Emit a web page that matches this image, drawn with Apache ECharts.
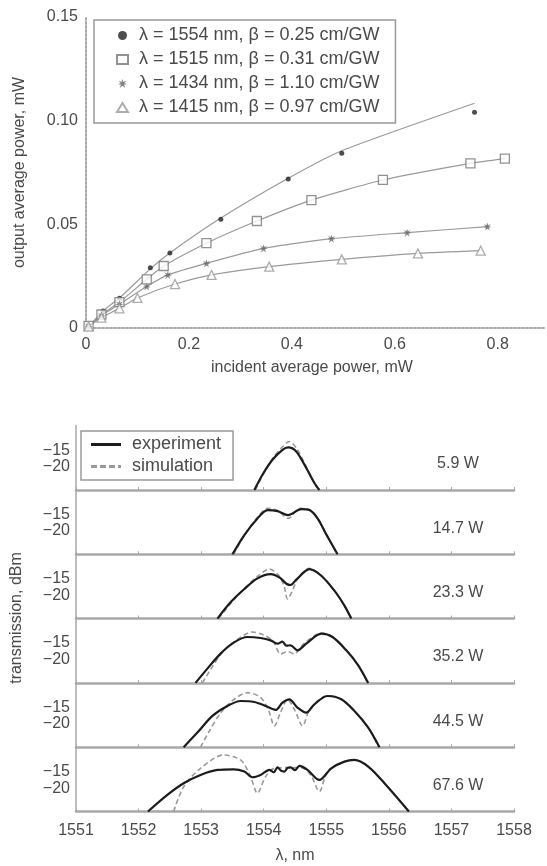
<!DOCTYPE html>
<html>
<head>
<meta charset="utf-8">
<script src="https://cdn.jsdelivr.net/npm/echarts@6/dist/echarts.min.js"></script>
<style>
  html, body { margin: 0; padding: 0; background: #fff; }
  #chart { width: 547px; height: 866px; }
</style>
</head>
<body>
<div id="chart"></div>
<script>
// ---- top plot: output vs incident average power (mW) ----
const seriesNames = [
  'λ = 1554 nm, β = 0.25 cm/GW',
  'λ = 1515 nm, β = 0.31 cm/GW',
  'λ = 1434 nm, β = 1.10 cm/GW',
  'λ = 1415 nm, β = 0.97 cm/GW'
];
const inc1554 = [0.005, 0.033, 0.065, 0.125, 0.163, 0.262, 0.393, 0.497, 0.755];
const out1554 = [0.0005, 0.0082, 0.0143, 0.0291, 0.0362, 0.0524, 0.0719, 0.0843, 0.104];
const fit1554 = [0.0005, 0.0082, 0.0145, 0.0285, 0.0362, 0.0530, 0.0722, 0.0855, 0.1084];
const inc1515 = [0.005, 0.03, 0.065, 0.118, 0.151, 0.234, 0.332, 0.438, 0.577, 0.747, 0.814];
const out1515 = [0.001, 0.0065, 0.0125, 0.0235, 0.0299, 0.0409, 0.0516, 0.0617, 0.0714, 0.0794, 0.0817];
const inc1434 = [0.005, 0.03, 0.065, 0.118, 0.159, 0.234, 0.345, 0.477, 0.624, 0.78];
const out1434 = [0.0008, 0.006, 0.0115, 0.02, 0.0256, 0.0312, 0.0384, 0.0431, 0.046, 0.0489];
const inc1415 = [0.005, 0.03, 0.065, 0.1, 0.173, 0.244, 0.356, 0.497, 0.645, 0.767];
const out1415 = [0.0007, 0.005, 0.0095, 0.0145, 0.0212, 0.0256, 0.0296, 0.0331, 0.036, 0.0373];
const incTicks = [0, 0.2, 0.4, 0.6, 0.8];

// ---- bottom plot: transmission spectra at several peak powers ----
const powerLabels = ['5.9 W', '14.7 W', '23.3 W', '35.2 W', '44.5 W', '67.6 W'];
const lambdaTicks = [1551, 1552, 1553, 1554, 1555, 1556, 1557, 1558];
const transTicks = [-15, -20];

const expL1 = [1553.85, 1553.98, 1554.14, 1554.30, 1554.39, 1554.52, 1554.68, 1554.81, 1554.89];
const expT1 = [-27, -22.4, -17.9, -14.9, -14.2, -15.4, -20.4, -24.9, -27];
const simL1 = [1553.87, 1554.0, 1554.15, 1554.3, 1554.41, 1554.53, 1554.68, 1554.8, 1554.88];
const simT1 = [-27, -22.0, -17.3, -14.0, -12.4, -14.6, -20.0, -24.6, -27];

const expL2 = [1553.50, 1553.69, 1553.90, 1554.06, 1554.22, 1554.39, 1554.60, 1554.73, 1554.86, 1555.00, 1555.18];
const expT2 = [-27, -21.2, -16.2, -13.7, -14.0, -15.2, -13.4, -13.7, -16.2, -21.0, -27];
const simL2 = [1553.52, 1553.7, 1553.9, 1554.06, 1554.22, 1554.39, 1554.58, 1554.73, 1554.86, 1555.0, 1555.17];
const simT2 = [-27, -21.0, -15.9, -13.2, -13.8, -16.2, -13.2, -13.5, -16.0, -21.0, -27];

const expL3 = [1553.26, 1553.47, 1553.69, 1553.90, 1554.11, 1554.25, 1554.37, 1554.43, 1554.52, 1554.73, 1554.92, 1555.13, 1555.29, 1555.40];
const expT3 = [-27, -22.1, -18.1, -14.9, -13.6, -14.6, -16.6, -16.9, -15.3, -12.1, -14.1, -18.6, -23.1, -27];
const simL3 = [1553.28, 1553.48, 1553.7, 1553.9, 1554.09, 1554.24, 1554.33, 1554.38, 1554.45, 1554.55, 1554.73, 1554.92, 1555.13, 1555.29, 1555.40];
const simT3 = [-27, -22.3, -17.8, -14.3, -12.1, -14.0, -17.5, -21.1, -19.0, -14.8, -11.9, -14.0, -18.6, -23.1, -27];

const expL4 = [1552.91, 1553.10, 1553.31, 1553.52, 1553.74, 1553.95, 1554.11, 1554.22, 1554.30, 1554.36, 1554.43, 1554.54, 1554.68, 1554.92, 1555.10, 1555.32, 1555.51, 1555.67];
const expT4 = [-27, -22.7, -18.2, -14.9, -13.2, -13.5, -14.2, -15.2, -14.6, -15.8, -15.7, -17.2, -15.2, -12.2, -13.2, -17.2, -21.7, -27];
const simL4 = [1553.02, 1553.15, 1553.33, 1553.55, 1553.82, 1554.0, 1554.15, 1554.27, 1554.38, 1554.49, 1554.6, 1554.72, 1554.92, 1555.1, 1555.32, 1555.51, 1555.66];
const simT4 = [-27, -23.0, -18.0, -14.3, -11.7, -12.6, -14.5, -18.3, -17.6, -18.3, -16.0, -14.0, -12.0, -13.2, -17.2, -21.7, -27];

const expL5 = [1552.72, 1552.94, 1553.18, 1553.42, 1553.63, 1553.85, 1554.03, 1554.19, 1554.30, 1554.41, 1554.54, 1554.68, 1554.81, 1555.02, 1555.24, 1555.45, 1555.67, 1555.85];
const expT5 = [-27, -22.6, -17.6, -14.6, -13.1, -13.4, -14.6, -15.8, -13.6, -12.6, -15.1, -16.6, -14.1, -11.6, -12.6, -16.1, -21.1, -27];
const simL5 = [1552.99, 1553.12, 1553.3, 1553.5, 1553.74, 1553.95, 1554.08, 1554.17, 1554.27, 1554.38, 1554.5, 1554.62, 1554.74, 1555.02, 1555.24, 1555.45, 1555.67, 1555.84];
const simT5 = [-27, -22.5, -17.0, -13.0, -10.6, -12.0, -16.0, -20.6, -16.5, -12.6, -16.0, -20.6, -15.5, -11.5, -12.6, -16.1, -21.1, -27];

const expL6 = [1552.15, 1552.46, 1552.72, 1552.99, 1553.26, 1553.52, 1553.69, 1553.82, 1553.95, 1554.09, 1554.16, 1554.22, 1554.28, 1554.33, 1554.38, 1554.43, 1554.50, 1554.57, 1554.70, 1554.89, 1555.08, 1555.29, 1555.45, 1555.67, 1555.93, 1556.32];
const expT6 = [-27, -22.0, -18.5, -16.0, -14.5, -14.3, -15.0, -16.7, -16.0, -14.5, -15.2, -13.7, -14.8, -15.0, -13.9, -13.7, -14.6, -13.3, -14.5, -17.5, -14.0, -12.0, -11.5, -13.5, -18.5, -27];
const simL6 = [1552.56, 1552.72, 1552.99, 1553.36, 1553.63, 1553.78, 1553.90, 1554.03, 1554.17, 1554.4, 1554.6, 1554.75, 1554.89, 1555.02, 1555.29, 1555.45, 1555.67, 1555.93, 1556.32];
const simT6 = [-27, -19.6, -14.0, -10.0, -11.5, -16.0, -21.5, -16.5, -14.0, -13.8, -13.8, -16.0, -21.0, -15.0, -12.0, -11.5, -13.5, -18.5, -27];

const expLambda = [expL1, expL2, expL3, expL4, expL5, expL6];
const expTrans = [expT1, expT2, expT3, expT4, expT5, expT6];
const simLambda = [simL1, simL2, simL3, simL4, simL5, simL6];
const simTrans = [simT1, simT2, simT3, simT4, simT5, simT6];

const FONT = "'Liberation Sans', Arial, sans-serif";
const TEXT = '#4a4a4a';
const AXIS = '#a8a8a8';

const PANEL_TOP = 425.5;
const PANEL_STEP = 64.3;
const PANEL_H = 64.5;

const pairs = (xs, ys) => xs.map((x, i) => [x, ys[i]]);

const chart = echarts.init(document.getElementById('chart'), null, { renderer: 'canvas' });

const grids = [{ left: 86, right: 0, top: 17, height: 311 }];
const xAxes = [{
  type: 'value', gridIndex: 0, min: 0, max: 0.89, interval: 0.2,
  axisLine: { lineStyle: { color: AXIS, width: 2, type: 'dotted' } },
  axisTick: { show: false },
  splitLine: { show: false },
  axisLabel: {
    color: TEXT, fontSize: 16, fontFamily: FONT, margin: 9,
    formatter: v => incTicks.some(t => Math.abs(t - v) < 1e-6) ? (v === 0 ? '0' : String(+v.toFixed(1))) : ''
  },
  name: 'incident average power, mW', nameLocation: 'middle', nameGap: 32,
  nameTextStyle: { color: TEXT, fontSize: 16, fontFamily: FONT, padding: [0, 0, 0, -6] }
}];
const yAxes = [{
  type: 'value', gridIndex: 0, min: 0, max: 0.15, interval: 0.05,
  axisLine: { show: true, lineStyle: { color: AXIS, width: 2, type: 'dotted' } },
  axisTick: { show: false },
  splitLine: { show: false },
  axisLabel: { color: TEXT, fontSize: 16, fontFamily: FONT, margin: 8, formatter: v => v === 0 ? '0' : v.toFixed(2) },
  name: 'output average power, mW', nameLocation: 'middle', nameGap: 58,
  nameTextStyle: { color: TEXT, fontSize: 16, fontFamily: FONT }
}];

for (let i = 0; i < 6; i++) {
  const last = i === 5;
  grids.push({ left: 76, right: 33, top: PANEL_TOP + i * PANEL_STEP, height: PANEL_H });
  xAxes.push({
    type: 'value', gridIndex: i + 1, min: 1551, max: 1558, interval: 1,
    axisLine: { lineStyle: { color: AXIS, width: 2.5 } },
    axisTick: { show: true, inside: true, length: 3, lineStyle: { color: AXIS } },
    splitLine: { show: false },
    axisLabel: {
      show: last, color: TEXT, fontSize: 16, fontFamily: FONT, margin: 11,
      formatter: v => lambdaTicks.includes(v) ? String(v) : ''
    },
    name: last ? 'λ, nm' : '', nameLocation: 'middle', nameGap: 36,
    nameTextStyle: { color: TEXT, fontSize: 16, fontFamily: FONT }
  });
  yAxes.push({
    type: 'value', gridIndex: i + 1, min: -27, max: -7.6, interval: 1,
    axisLine: { show: true, lineStyle: { color: AXIS, width: 1.5 } },
    axisTick: { show: false },
    splitLine: { show: false },
    axisLabel: {
      color: TEXT, fontSize: 16, fontFamily: FONT, margin: 6,
      formatter: v => transTicks.includes(v) ? '−' + Math.abs(v) : ''
    }
  });
}

const series = [];
const markers = [
  { symbol: 'circle', symbolSize: 5, itemStyle: { color: '#222' } },
  { symbol: 'rect', symbolSize: 9, itemStyle: { color: '#fff', borderColor: '#777', borderWidth: 1.3 } },
  { symbol: 'path://M5 0L6 3.3L9.3 1.7L7 4.6L10 5.6L6.7 6.4L8.2 10L5 7.6L1.8 10L3.3 6.4L0 5.6L3 4.6L0.7 1.7L4 3.3Z',
    symbolSize: 8, itemStyle: { color: '#666' } },
  { symbol: 'triangle', symbolSize: 9, itemStyle: { color: '#fff', borderColor: '#999', borderWidth: 1.3 } }
];
const incs = [inc1554, inc1515, inc1434, inc1415];
const outs = [out1554, out1515, out1434, out1415];
const fits = [fit1554, out1515, out1434, out1415];

incs.forEach((xs, k) => {
  series.push({
    type: 'line', name: 'fit' + k, xAxisIndex: 0, yAxisIndex: 0, silent: true,
    data: pairs(xs, fits[k]), symbol: 'none', smooth: 0.2,
    lineStyle: { color: '#9a9a9a', width: 1.2 }, z: 2
  });
});
incs.forEach((xs, k) => {
  series.push(Object.assign({
    type: 'scatter', name: seriesNames[k], xAxisIndex: 0, yAxisIndex: 0,
    data: pairs(xs, outs[k]), z: 3
  }, markers[k]));
});

for (let i = 0; i < 6; i++) {
  series.push({
    type: 'line', name: 'simulation', xAxisIndex: i + 1, yAxisIndex: i + 1,
    data: pairs(simLambda[i], simTrans[i]), symbol: 'none', smooth: 0.3,
    lineStyle: { color: '#999', width: 1.6, type: [5, 3] }, itemStyle: { color: '#999' }, z: 2
  });
  series.push({
    type: 'line', name: 'experiment', xAxisIndex: i + 1, yAxisIndex: i + 1,
    data: pairs(expLambda[i], expTrans[i]), symbol: 'none', smooth: 0.3,
    lineStyle: { color: '#1c1c1c', width: 2.2 }, itemStyle: { color: '#1c1c1c' }, z: 3
  });
}

const graphic = [{
  type: 'text', x: 17, y: 618, rotation: Math.PI / 2,
  style: { text: 'transmission, dBm', fill: TEXT, font: '16px ' + FONT, align: 'center', verticalAlign: 'middle' }
}];
powerLabels.forEach((t, i) => {
  graphic.push({
    type: 'text', x: 458, y: PANEL_TOP + i * PANEL_STEP + PANEL_H - 26,
    style: { text: t, fill: TEXT, font: '16px ' + FONT, align: 'center', verticalAlign: 'middle' }
  });
});

chart.setOption({
  animation: false,
  grid: grids,
  xAxis: xAxes,
  yAxis: yAxes,
  legend: [{
    data: seriesNames, orient: 'vertical', left: 94, top: 20,
    padding: [6, 16, 6, 22], itemGap: 5, itemWidth: 11, itemHeight: 9,
    borderColor: '#999', borderWidth: 1.5,
    textStyle: { color: TEXT, fontSize: 18, fontFamily: FONT, lineHeight: 19, padding: [0, 0, 0, 6] },
    selectedMode: false
  }, {
    data: [
      { name: 'experiment', icon: 'path://M0 0H30V3H0Z', itemStyle: { color: '#1c1c1c' } },
      { name: 'simulation', icon: 'path://M0 0H6V3H0ZM9 0H15V3H9ZM18 0H24V3H18ZM27 0H30V3H27Z', itemStyle: { color: '#999' } }
    ],
    orient: 'vertical', left: 81, top: 431,
    padding: [4, 12, 4, 10], itemGap: 3, itemWidth: 30, itemHeight: 3,
    borderColor: '#999', borderWidth: 1.5,
    textStyle: { color: TEXT, fontSize: 18, fontFamily: FONT, lineHeight: 19, padding: [0, 0, 0, 6] },
    selectedMode: false
  }],
  graphic: graphic,
  series: series
});
</script>
</body>
</html>
